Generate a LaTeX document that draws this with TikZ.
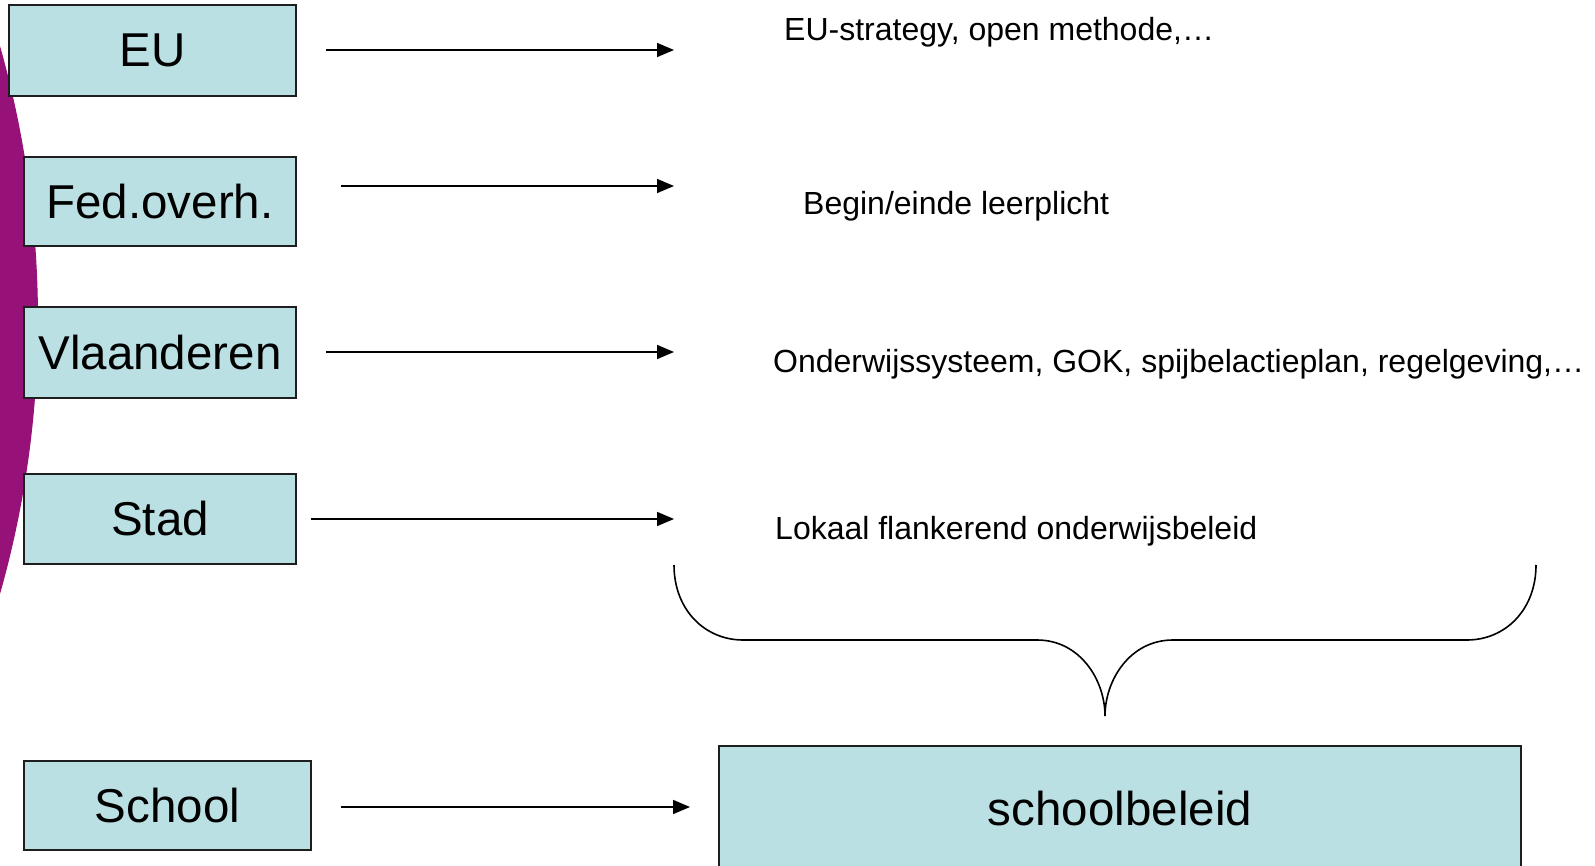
\documentclass[tikz,border=0pt]{standalone}
\usepackage{fontspec}
\setmainfont{Liberation Sans}
\usetikzlibrary{arrows.meta}
\definecolor{boxfill}{RGB}{187,224,227}
\definecolor{edge}{RGB}{30,30,30}
\definecolor{plum}{RGB}{150,17,120}
\tikzset{
  lvl/.style={draw=edge, line width=1.6pt, fill=boxfill, inner sep=0pt,
              font=\fontsize{47.5}{50}\selectfont},
  lbl/.style={anchor=west, inner sep=0pt, font=\fontsize{32}{34}\selectfont},
  arr/.style={line width=1.6pt, -{Triangle[length=17pt,width=14pt]}},
  brace/.style={line width=1.6pt}
}
\begin{document}
\begin{tikzpicture}[x=1pt,y=-1pt]
\useasboundingbox (0,0) rectangle (1595,866);
\clip (0,0) rectangle (1595,866);
\fill[white] (0,0) rectangle (1595,866);
% purple background shape
\fill[plum] (-962,320) ellipse [x radius=1000, y radius=1000];
% boxes
\node[lvl, minimum width=287pt, minimum height=91pt] (eu) at (152.5,50.5) {\raisebox{-1.5pt}{EU}};
\node[lvl, minimum width=272pt, minimum height=89pt] (fed) at (160,201.5) {\raisebox{-1.5pt}{Fed.overh.}};
\node[lvl, minimum width=272pt, minimum height=91pt] (vl) at (160,352.5) {\raisebox{-1.5pt}{Vlaanderen}};
\node[lvl, minimum width=272pt, minimum height=90pt] (stad) at (160,519) {\raisebox{-1.5pt}{Stad}};
\node[lvl, minimum width=287pt, minimum height=89pt] (school) at (167.5,805.5) {\raisebox{-1.5pt}{School}};
\node[lvl, minimum width=802pt, minimum height=126pt] (sb) at (1120,809) {schoolbeleid};
% labels
\node[lbl] (t1) at (784,32) {EU-strategy, open methode,…};
\node[lbl] (t2) at (803,206) {Begin/einde leerplicht};
\node[lbl] (t3) at (773,364) {Onderwijssysteem, GOK, spijbelactieplan, regelgeving,…};
\node[lbl] (t4) at (775,531) {Lokaal flankerend onderwijsbeleid};
% arrow ends
\coordinate (s1) at (326,50);
\coordinate (s2) at (341,186);
\coordinate (s3) at (326,352);
\coordinate (s4) at (311,519);
\coordinate (s5) at (341,807);
\coordinate (e1) at (674,50);
\coordinate (e2) at (674,186);
\coordinate (e3) at (674,352);
\coordinate (e4) at (674,519);
\coordinate (e5) at (690,807);
\draw[arr] (s1) -- (e1);
\draw[arr] (s2) -- (e2);
\draw[arr] (s3) -- (e3);
\draw[arr] (s4) -- (e4);
\draw[arr] (s5) -- (e5);
% brace
\draw[brace] (674,565) .. controls (674,610) and (705,640) .. (743,640)
  -- (1037,640) .. controls (1080,640) and (1105,680) .. (1105,716)
  .. controls (1105,680) and (1130,640) .. (1173,640)
  -- (1467,640) .. controls (1505,640) and (1536,610) .. (1536,565);
\end{tikzpicture}
\end{document}
